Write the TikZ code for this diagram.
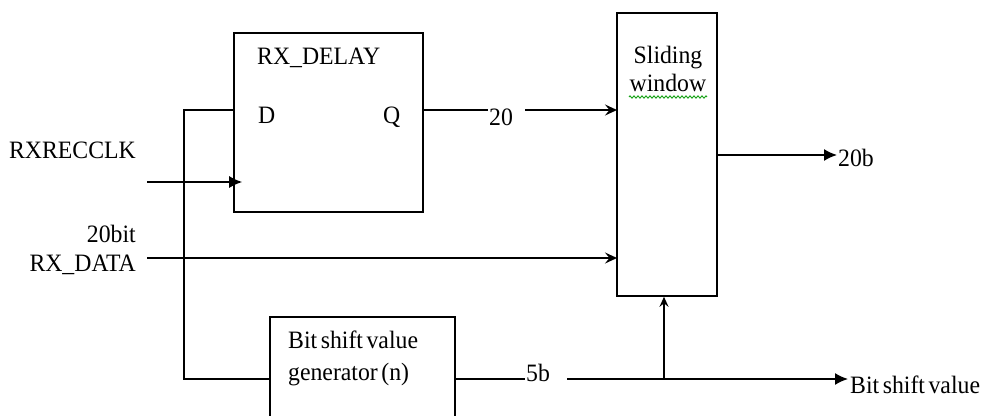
\documentclass[tikz,border=0pt]{standalone}
\usepackage{fontspec}
\setmainfont{Liberation Serif}[FakeStretch=0.95,WordSpace=0.6]
\usetikzlibrary{arrows.meta,decorations.pathmorphing,calc}
\begin{document}
\begin{tikzpicture}[x=1pt,y=-1pt,
  wire/.style={line width=1.6pt},
  blk/.style={draw,line width=1.6pt,inner sep=0pt},
  lbl/.style={font=\fontsize{25}{28}\selectfont,inner sep=0pt,anchor=base west},
  fill arrow/.style={-{Latex[length=13pt,width=12pt]}},
  open arrow/.style={-{Stealth[length=12pt,width=11pt,inset=4.5pt]}}]
\useasboundingbox (0,0) rectangle (984,415);
\clip (0,0) rectangle (984,415);
% blocks
\node[blk,minimum width=189pt,minimum height=179pt] (delay) at (328.5,122.5) {};
\node[blk,minimum width=100pt,minimum height=283pt] (sw) at (667,154.5) {};
\node[blk,minimum width=185pt,minimum height=118pt] (gen) at (362.5,376) {};
% block texts
\node[lbl] (tdelay) at (257,64) {RX\_DELAY};
\node[lbl] (td) at (258,123) {D};
\node[lbl] (tq) at (383,123) {Q};
\node[lbl,anchor=base] (tsl) at (668,63) {Sliding};
\node[lbl,anchor=base] (twin) at (668,91) {window};
\draw[green!60!black,line width=0.8pt,decorate,
  decoration={zigzag,segment length=4pt,amplitude=1.2pt}] (629,97) -- (707,97);
\node[lbl] (tg1) at (288,348) {Bit shift value};
\node[lbl] (tg2) at (288,380) {generator (n)};
% input labels
\node[lbl,anchor=base east] (tclk) at (136,158) {RXRECCLK};
\node[lbl,anchor=base east] (t20bit) at (136,242) {20bit};
\node[lbl,anchor=base east] (tdata) at (136,271) {RX\_DATA};
% coordinates
\coordinate (clkin) at (147,182);
\coordinate (datain) at (147,258);
\coordinate (fbx) at (184,110);
\coordinate (din) at (234,110);
\coordinate (gfb) at (270,379);
\coordinate (qout) at (423,110);
\coordinate (q20a) at (488,110);
\coordinate (q20b) at (525,110);
\coordinate (swq) at (617,110);
\coordinate (swd) at (617,258);
\coordinate (swo) at (717,155);
\coordinate (swoe) at (837,155);
\coordinate (go) at (455,379);
\coordinate (g5a) at (525,379);
\coordinate (g5b) at (567,379);
\coordinate (tap) at (664,379);
\coordinate (goe) at (848,379);
% connectors
\draw[wire] (gfb) -| (fbx) -- (din);
\draw[wire,fill arrow] (clkin) -- ($(delay.west |- clkin)+(9,0)$);
\draw[wire,open arrow] (datain) -- (swd);
\draw[wire] (qout) -- (q20a);
\node[lbl] (t20) at (489,125) {20};
\draw[wire,open arrow] (q20b) -- (swq);
\draw[wire,fill arrow] (swo) -- (swoe);
\node[lbl] (t20b) at (838,166) {20b};
\draw[wire] (go) -- (g5a);
\node[lbl] (t5b) at (526,381) {5b};
\draw[wire,fill arrow] (g5b) -- (goe);
\node[lbl] (tbsv) at (850,393) {Bit shift value};
\draw[wire,-{Stealth[length=10pt,width=9pt,inset=3.5pt]}] (tap) -- (sw.south -| tap);
\end{tikzpicture}
\end{document}
